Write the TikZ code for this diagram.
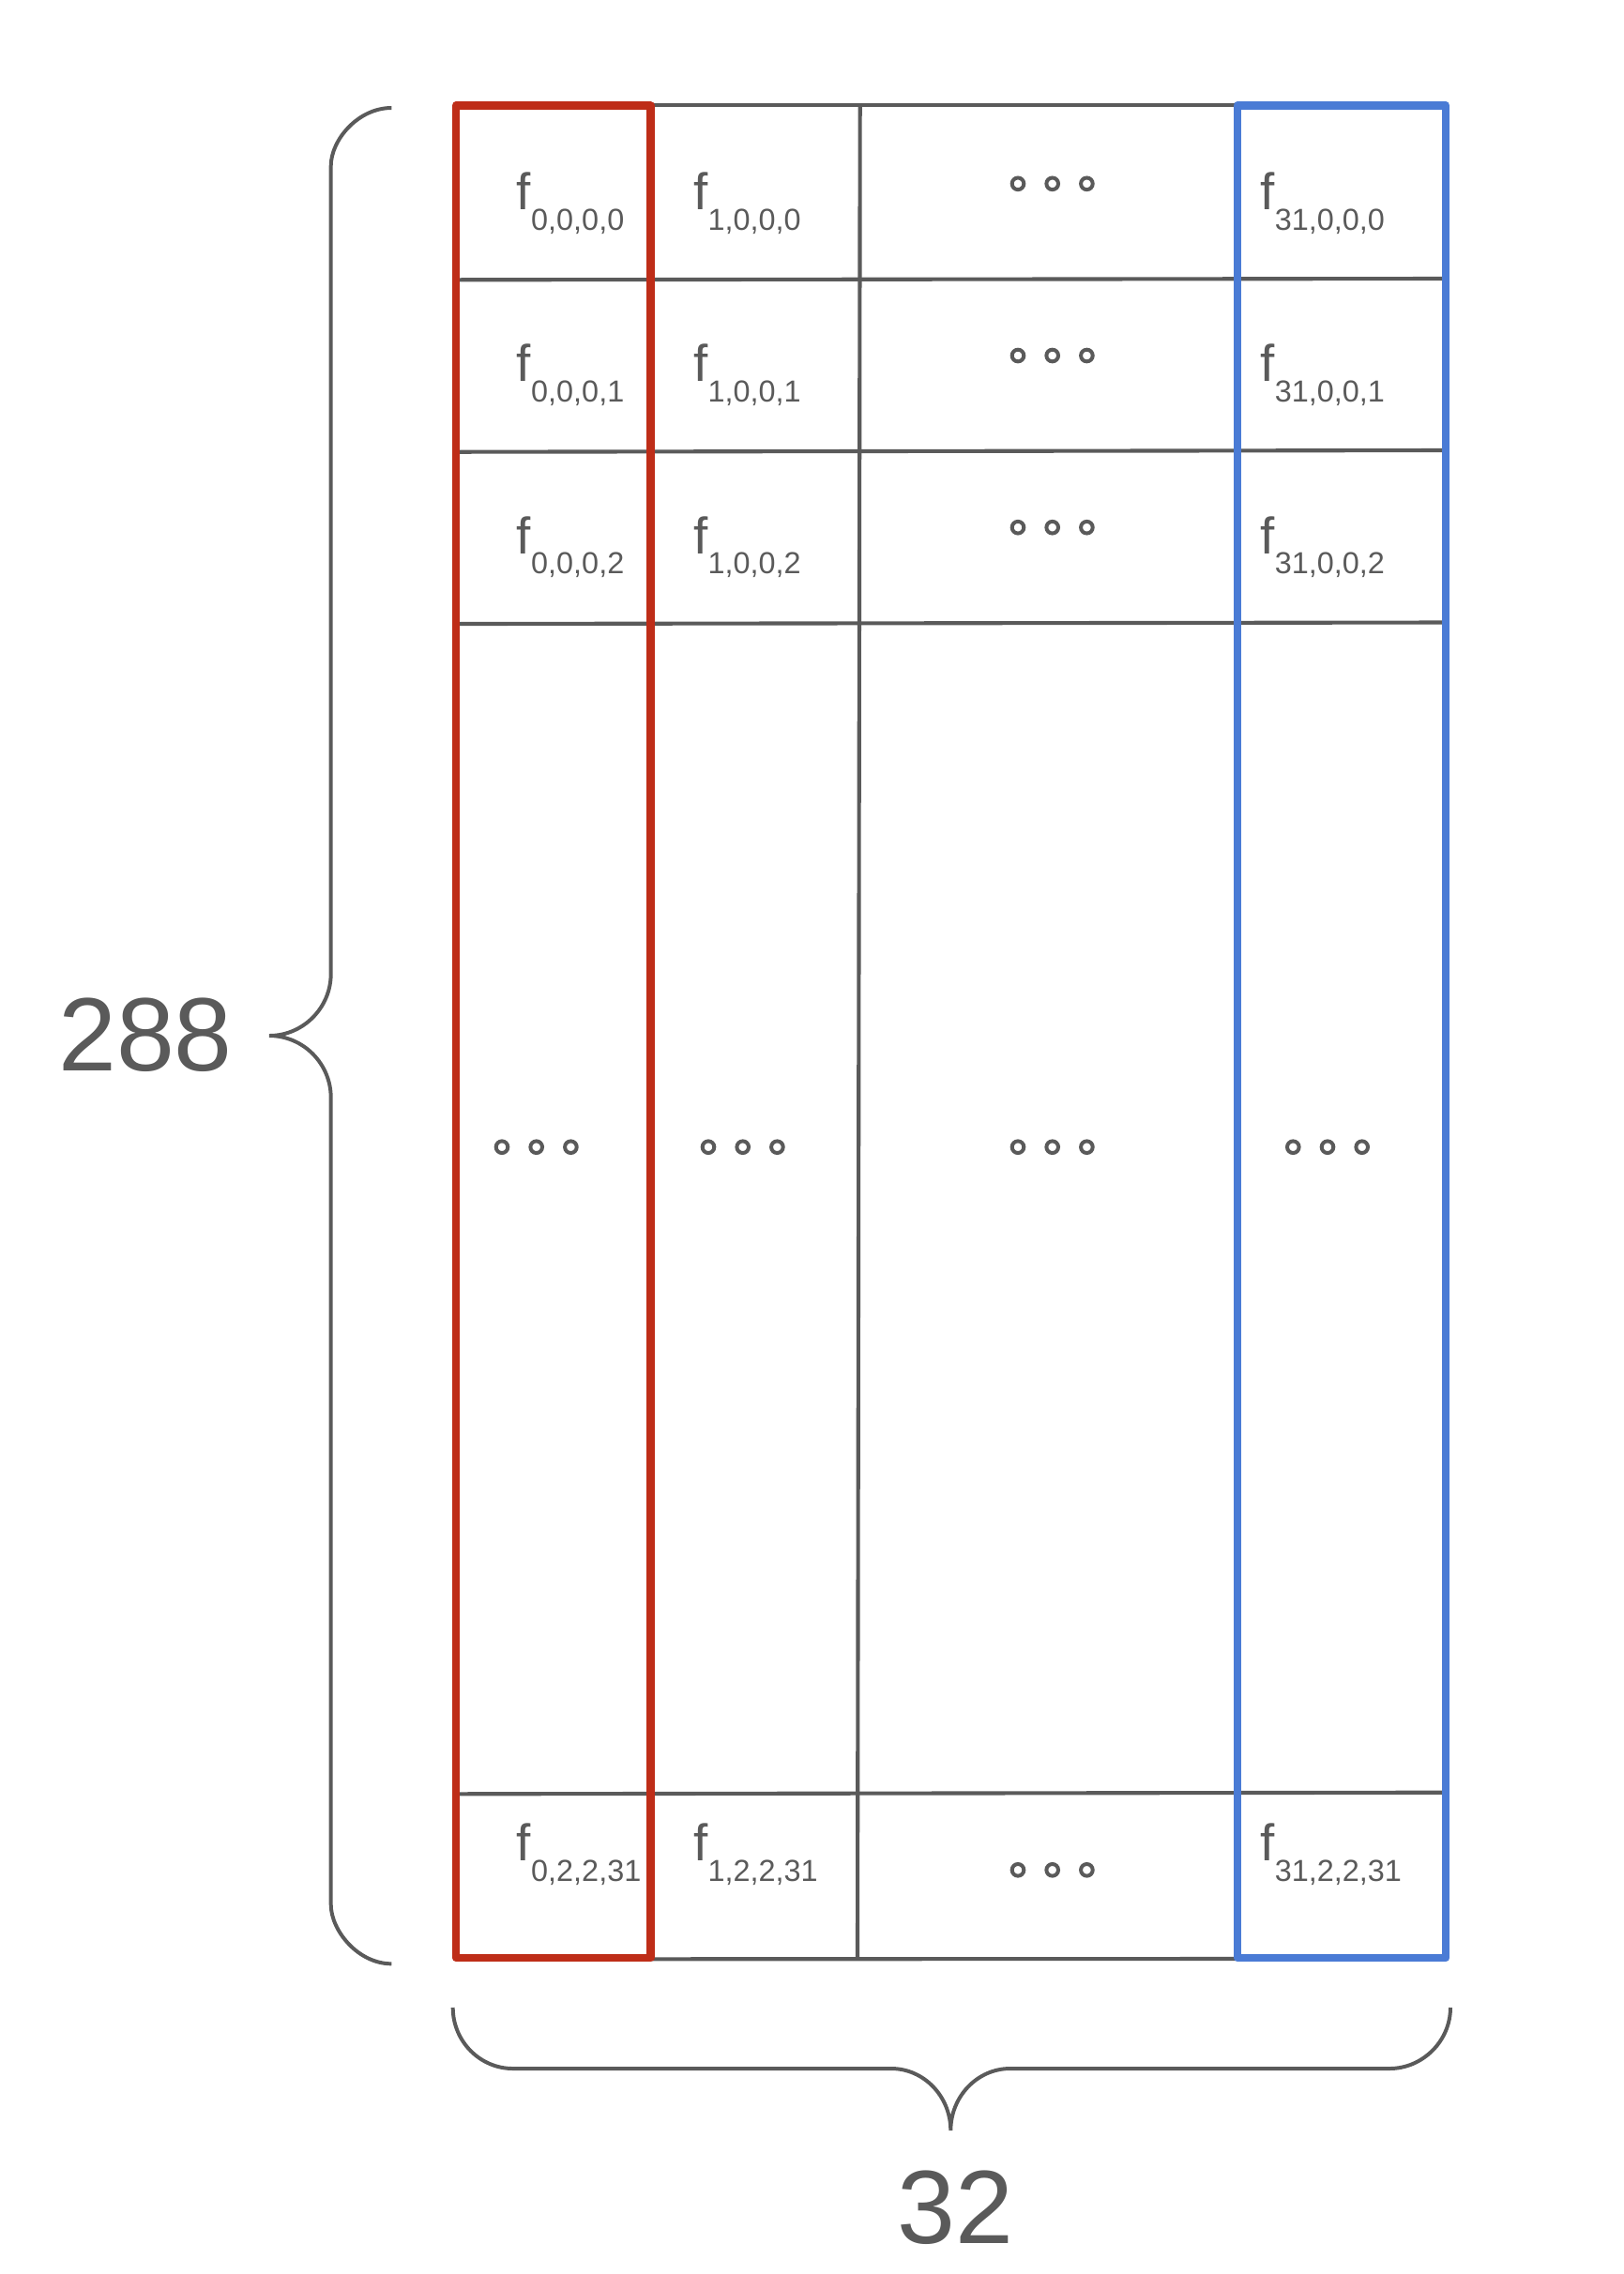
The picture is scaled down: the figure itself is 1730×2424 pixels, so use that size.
\documentclass[tikz,border=0pt]{standalone}
\usepackage{fontspec}
\setmainfont{Liberation Sans}
\definecolor{inkgray}{HTML}{5A5A5A}
\definecolor{colred}{HTML}{BE2D18}
\definecolor{colblue}{HTML}{4A7BD5}
\newcommand{\fsub}[1]{\raisebox{-7.9pt}{\fontsize{11.8}{12}\selectfont #1}}

\begin{document}
\begin{tikzpicture}[x=0.0128cm, y=-0.0128cm,
  cellline/.style={inkgray, line width=1.5pt},
  colbox/.style={line width=3pt, line join=round},
  brace/.style={inkgray, line width=1.45pt},
  ring/.style={inkgray, line width=1.45pt},
  lbl/.style={inner sep=0pt, anchor=base west, text=inkgray, font=\fontsize{20}{22}\selectfont},
  big/.style={inner sep=0pt, text=inkgray, font=\fontsize{40.5}{44}\selectfont}]

        \useasboundingbox (0,0) rectangle (1730,2424);

        % grid lines
        \draw [cellline] (693.5,112) -- (1319,112);
        \draw [cellline] (693.5,2088.3) -- (1319,2088);
        \draw [cellline] (916.7,112) -- (914,2088);
        \draw [cellline] (486,298.3) -- (1541,297);
        \draw [cellline] (486,481.7) -- (1541,480);
        \draw [cellline] (486,665) -- (1541,663.5);
        \draw [cellline] (486,1912.3) -- (1541,1910.7);

        % first and last column
        \draw [colbox, colred] (486,112.5) rectangle (693.5,2087);
        \draw [colbox, colblue] (1319,112.5) rectangle (1541.3,2087);

        % cell labels
        \node [lbl] (f0a) at (550.4,223.3) {f\fsub{0,0,0,0}};
        \node [lbl] (f1a) at (738.7,223.3) {f\fsub{1,0,0,0}};
        \node [lbl] (f31a) at (1343,223.3) {f\fsub{31,0,0,0}};
        \node [lbl] (f0b) at (550.4,406.5) {f\fsub{0,0,0,1}};
        \node [lbl] (f1b) at (738.7,406.5) {f\fsub{1,0,0,1}};
        \node [lbl] (f31b) at (1343,406.5) {f\fsub{31,0,0,1}};
        \node [lbl] (f0c) at (550.4,590) {f\fsub{0,0,0,2}};
        \node [lbl] (f1c) at (738.7,590) {f\fsub{1,0,0,2}};
        \node [lbl] (f31c) at (1343,590) {f\fsub{31,0,0,2}};
        \node [lbl] (f0z) at (550.4,1983.3) {f\fsub{0,2,2,31}};
        \node [lbl] (f1z) at (738.7,1983.3) {f\fsub{1,2,2,31}};
        \node [lbl] (f31z) at (1343,1983.3) {f\fsub{31,2,2,31}};

        % elided cells
        \foreach \cx/\cy in {1121.7/195.8, 1121.7/379, 1121.7/562.2, 571.7/1222.7, 791.7/1222.7,
                1121.7/1222.7, 1415/1222.7, 1121.7/1993.3}
            \foreach \d in {-36.7,0,36.7}
                \draw [ring] (\cx+\d,\cy) circle (2.3pt);

        % braces
        \draw [brace] (417.3,115) .. controls (381.8,115) and (352.7,149) .. (352.7,177) -- (352.7,1038)
            .. controls (352.7,1074.3) and (323.1,1104) .. (287,1104)
            .. controls (323.1,1104) and (352.7,1133.7) .. (352.7,1170) -- (352.7,2030)
            .. controls (352.7,2058) and (381.8,2093.3) .. (417.3,2093.3);
        \draw [brace] (482.7,2140) .. controls (482.7,2175.8) and (511.5,2205) .. (546.7,2205) -- (950,2205)
            .. controls (984.8,2205) and (1013.3,2234.7) .. (1013.3,2271)
            .. controls (1013.3,2234.7) and (1041.8,2205) .. (1076.7,2205) -- (1481,2205)
            .. controls (1516.2,2205) and (1546,2175.8) .. (1546,2140);

        \node [big] (rows) at (155,1103) {288};
        \node [big] (cols) at (1018.3,2353.3) {32};

\end{tikzpicture}
\end{document}
